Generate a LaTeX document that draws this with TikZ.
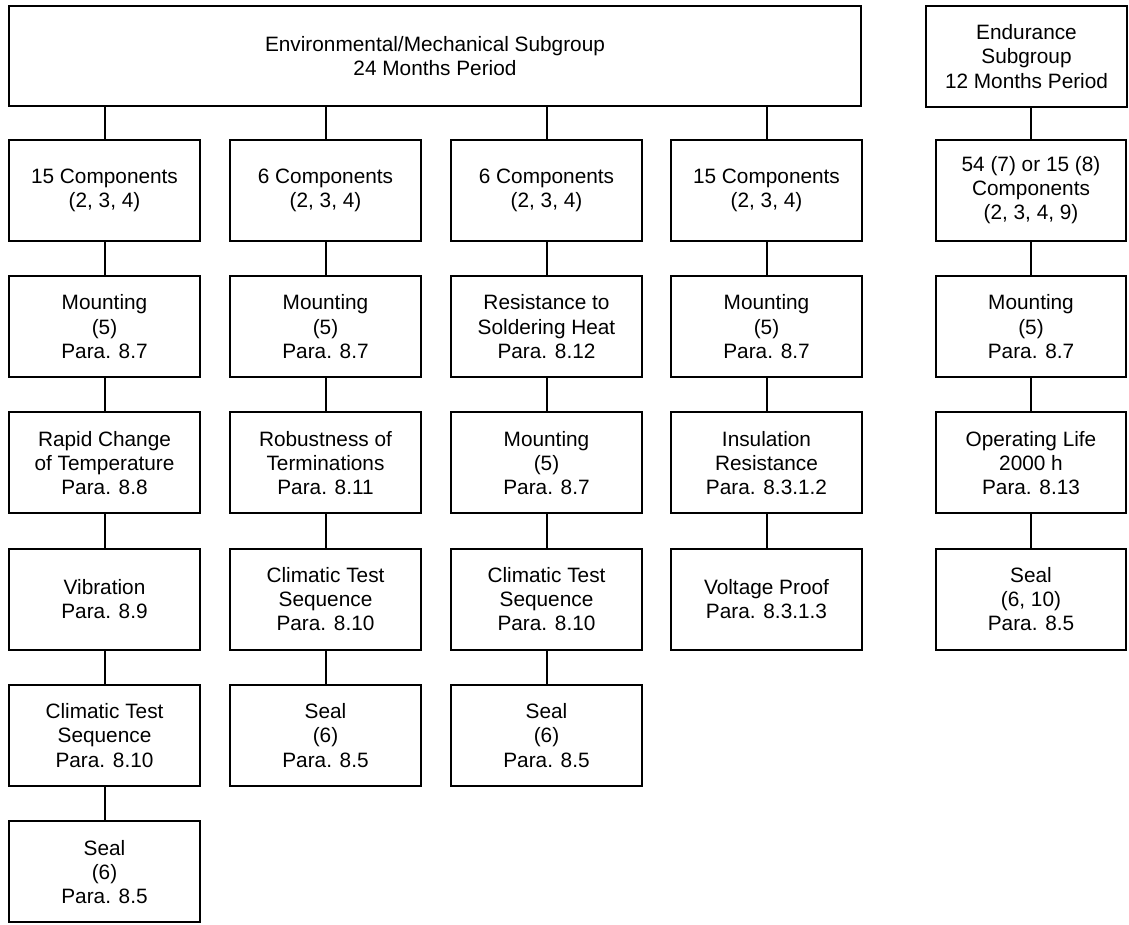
\documentclass[tikz,border=0pt]{standalone}
\usepackage{fontspec}
\setmainfont{Liberation Sans}
\begin{document}
\begin{tikzpicture}[x=1pt,y=-1pt,
  box/.style={draw, line width=2pt, rectangle, align=center, inner sep=0pt,
    minimum width=191pt, minimum height=101pt,
    font=\fontsize{20.8}{24.2}\selectfont},
  link/.style={line width=2pt}]
\useasboundingbox (0,0) rectangle (1129,924);
% headers
\node[box, minimum width=852pt, minimum height=100pt] (top) at (435,56) {Environmental/Mechanical Subgroup\\24 Months Period};
\node[box, minimum width=201pt, minimum height=101pt] (endu) at (1026.5,56.5) {Endurance\\Subgroup\\12 Months Period};
% column 1
\node[box] (a1) at (104.5,190.3) {15 Components\\(2, 3, 4)};
\node[box] (a2) at (104.5,326.6) {Mounting\\(5)\\Para. 8.7};
\node[box] (a3) at (104.5,462.9) {Rapid Change\\of Temperature\\Para. 8.8};
\node[box] (a4) at (104.5,599.2) {Vibration\\Para. 8.9};
\node[box] (a5) at (104.5,735.5) {Climatic Test\\Sequence\\Para. 8.10};
\node[box] (a6) at (104.5,871.8) {Seal\\(6)\\Para. 8.5};
% column 2
\node[box] (b1) at (325.5,190.3) {6 Components\\(2, 3, 4)};
\node[box] (b2) at (325.5,326.6) {Mounting\\(5)\\Para. 8.7};
\node[box] (b3) at (325.5,462.9) {Robustness of\\Terminations\\Para. 8.11};
\node[box] (b4) at (325.5,599.2) {Climatic Test\\Sequence\\Para. 8.10};
\node[box] (b5) at (325.5,735.5) {Seal\\(6)\\Para. 8.5};
% column 3
\node[box] (c1) at (546.5,190.3) {6 Components\\(2, 3, 4)};
\node[box] (c2) at (546.5,326.6) {Resistance to\\Soldering Heat\\Para. 8.12};
\node[box] (c3) at (546.5,462.9) {Mounting\\(5)\\Para. 8.7};
\node[box] (c4) at (546.5,599.2) {Climatic Test\\Sequence\\Para. 8.10};
\node[box] (c5) at (546.5,735.5) {Seal\\(6)\\Para. 8.5};
% column 4
\node[box] (d1) at (766.5,190.3) {15 Components\\(2, 3, 4)};
\node[box] (d2) at (766.5,326.6) {Mounting\\(5)\\Para. 8.7};
\node[box] (d3) at (766.5,462.9) {Insulation\\Resistance\\Para. 8.3.1.2};
\node[box] (d4) at (766.5,599.2) {Voltage Proof\\Para. 8.3.1.3};
% column 5
\node[box, minimum width=190pt] (e1) at (1031,190.3) {54 (7) or 15 (8)\\Components\\(2, 3, 4, 9)};
\node[box, minimum width=190pt] (e2) at (1031,326.6) {Mounting\\(5)\\Para. 8.7};
\node[box, minimum width=190pt] (e3) at (1031,462.9) {Operating Life\\2000 h\\Para. 8.13};
\node[box, minimum width=190pt] (e4) at (1031,599.2) {Seal\\(6, 10)\\Para. 8.5};
% connectors from headers
\foreach \n in {a1,b1,c1,d1} \draw[link] (\n.north) -- (\n.north |- top.south);
\draw[link] (e1.north) -- (e1.north |- endu.south);
% chains
\draw[link] (a1) -- (a2); \draw[link] (a2) -- (a3); \draw[link] (a3) -- (a4);
\draw[link] (a4) -- (a5); \draw[link] (a5) -- (a6);
\draw[link] (b1) -- (b2); \draw[link] (b2) -- (b3); \draw[link] (b3) -- (b4);
\draw[link] (b4) -- (b5);
\draw[link] (c1) -- (c2); \draw[link] (c2) -- (c3); \draw[link] (c3) -- (c4);
\draw[link] (c4) -- (c5);
\draw[link] (d1) -- (d2); \draw[link] (d2) -- (d3); \draw[link] (d3) -- (d4);
\draw[link] (e1) -- (e2); \draw[link] (e2) -- (e3); \draw[link] (e3) -- (e4);
\end{tikzpicture}
\end{document}
